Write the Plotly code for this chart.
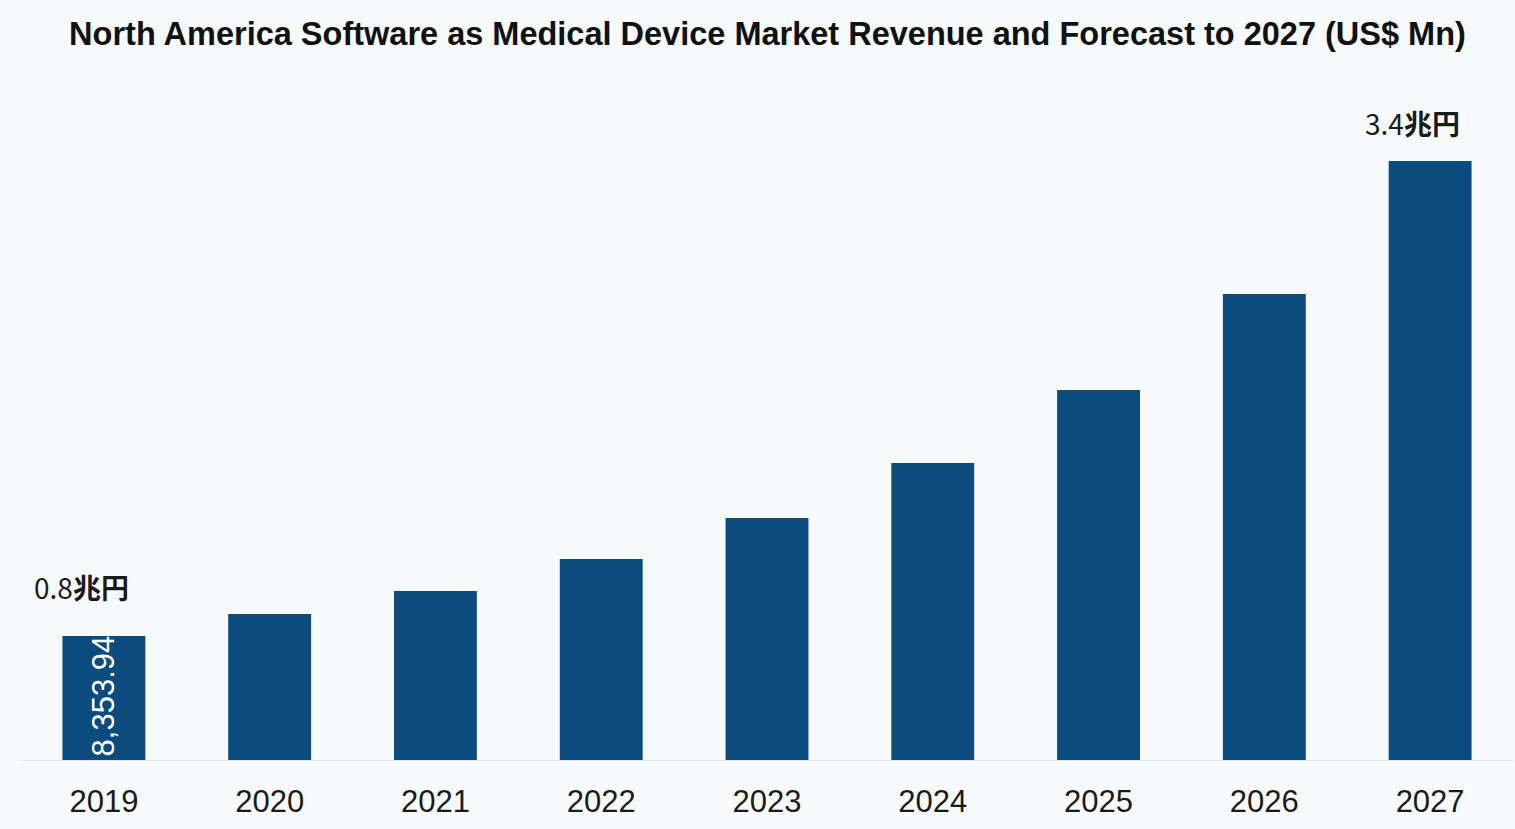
import plotly.graph_objects as go

years = ["2019", "2020", "2021", "2022", "2023", "2024", "2025", "2026", "2027"]
revenue = [8353.94, 9840, 11380, 13540, 16300, 20010, 24930, 31390, 40350]
first_num, first_unit = "0.8", "兆円"
last_num, last_unit = "3.4", "兆円"
inner_label = "8,353.94"
title_text = "North America Software as Medical Device Market Revenue and Forecast to 2027 (US$ Mn)"

BAR = "#0b4b7e"
BG = "#f6fafa"

xpos = list(range(len(years)))

fig = go.Figure()
fig.add_trace(go.Bar(x=xpos, y=revenue, marker=dict(color=BAR, line=dict(width=0)),
                     width=0.5, hoverinfo="skip"))

fig.add_annotation(x=xpos[0], y=0, text=inner_label, textangle=-90, showarrow=False,
                   xanchor="center", yanchor="bottom", yshift=2,
                   font=dict(family="Liberation Sans, Arial", size=31, color="white"))
fig.add_annotation(x=xpos[0], y=revenue[0], text=first_num + "<b>" + first_unit + "</b>",
                   showarrow=False, xanchor="center", yanchor="bottom", yshift=27, xshift=-22,
                   font=dict(family="Noto Sans CJK JP", size=28, color="#1a1a1a"))
fig.add_annotation(x=xpos[-1], y=revenue[-1], text=last_num + "<b>" + last_unit + "</b>",
                   showarrow=False, xanchor="center", yanchor="bottom", yshift=16, xshift=-18,
                   font=dict(family="Noto Sans CJK JP", size=28, color="#1a1a1a"))

fig.update_layout(
    width=1515, height=829,
    paper_bgcolor=BG, plot_bgcolor=BG,
    margin=dict(l=21, r=2, t=100, b=69),
    title=dict(text="<b>" + title_text + "</b>", x=0.5066, xanchor="center", y=0.96, yanchor="middle",
               font=dict(family="Liberation Sans, Arial", size=32.5, color="#111")),
    showlegend=False,
    xaxis=dict(range=[-0.5, len(years) - 0.5], tickmode="array", tickvals=xpos, ticktext=years,
               showgrid=False, zeroline=False, showline=True, linecolor="#dfe4e4", linewidth=1,
               ticks="", ticklabelstandoff=14,
               tickfont=dict(family="Liberation Sans, Arial", size=31, color="#1a1a1a")),
    yaxis=dict(range=[0, 44460], visible=False, showgrid=False),
)

fig.write_html("out.html")
